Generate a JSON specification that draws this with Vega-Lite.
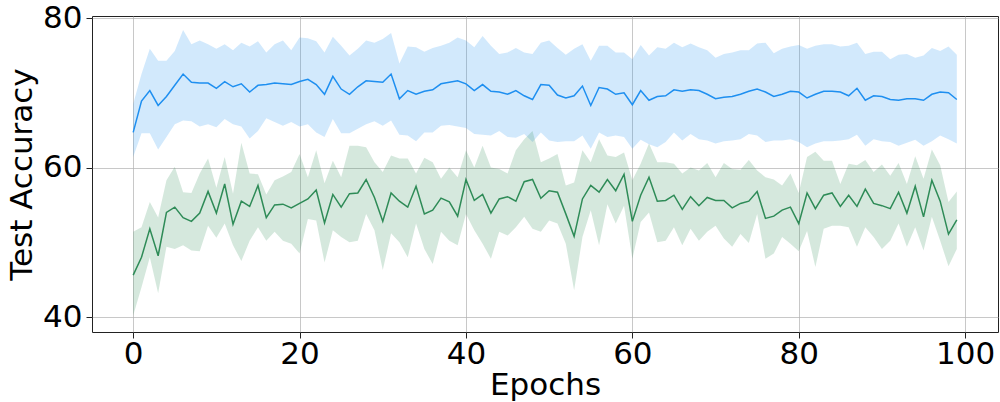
{
"$schema": "https://vega.github.io/schema/vega-lite/v6.json",
"width": 906, "height": 316,
"autosize": {"type": "none"},
"padding": {"left": 92, "top": 16, "right": 2, "bottom": 70},
"background": "white",
"config": {
  "view": {"stroke": "#222222", "strokeWidth": 1},
  "font": "DejaVu Sans",
  "axis": {"labelFont": "DejaVu Sans", "titleFont": "DejaVu Sans", "labelFontSize": 31, "titleFontSize": 31, "titleFontWeight": "normal", "labelColor": "black", "titleColor": "black", "tickColor": "#222222", "tickSize": 6, "domain": false, "gridColor": "#b0b0b0", "gridOpacity": 0.7, "gridWidth": 1}
},
"data": {"values": [
{"e":0,"s":"a","m":64.7,"lo":61.4,"hi":68.5},{"e":1,"s":"a","m":68.9,"lo":64.6,"hi":72.5},{"e":2,"s":"a","m":70.3,"lo":64.6,"hi":75.9},{"e":3,"s":"a","m":68.3,"lo":62.4,"hi":74.3},{"e":4,"s":"a","m":69.5,"lo":64.1,"hi":74.3},{"e":5,"s":"a","m":71.0,"lo":65.8,"hi":75.6},{"e":6,"s":"a","m":72.5,"lo":66.3,"hi":78.4},{"e":7,"s":"a","m":71.4,"lo":66.2,"hi":76.5},{"e":8,"s":"a","m":71.3,"lo":65.5,"hi":77.0},{"e":9,"s":"a","m":71.3,"lo":65.8,"hi":76.5},
{"e":10,"s":"a","m":70.6,"lo":65.4,"hi":75.9},{"e":11,"s":"a","m":71.5,"lo":66.5,"hi":76.5},{"e":12,"s":"a","m":70.8,"lo":65.8,"hi":75.7},{"e":13,"s":"a","m":71.2,"lo":65.5,"hi":76.7},{"e":14,"s":"a","m":70.1,"lo":63.9,"hi":76.2},{"e":15,"s":"a","m":71.0,"lo":64.9,"hi":76.9},{"e":16,"s":"a","m":71.1,"lo":66.6,"hi":75.4},{"e":17,"s":"a","m":71.3,"lo":66.1,"hi":76.5},{"e":18,"s":"a","m":71.2,"lo":65.6,"hi":77.0},{"e":19,"s":"a","m":71.1,"lo":66.1,"hi":75.7},
{"e":20,"s":"a","m":71.5,"lo":65.5,"hi":77.4},{"e":21,"s":"a","m":71.8,"lo":65.8,"hi":77.3},{"e":22,"s":"a","m":71.1,"lo":64.7,"hi":76.9},{"e":23,"s":"a","m":69.8,"lo":64.1,"hi":75.4},{"e":24,"s":"a","m":72.2,"lo":66.5,"hi":77.5},{"e":25,"s":"a","m":70.5,"lo":64.6,"hi":76.3},{"e":26,"s":"a","m":69.8,"lo":64.6,"hi":75.0},{"e":27,"s":"a","m":70.8,"lo":65.2,"hi":75.9},{"e":28,"s":"a","m":71.6,"lo":65.8,"hi":77.0},{"e":29,"s":"a","m":71.5,"lo":66.2,"hi":76.7},
{"e":30,"s":"a","m":71.4,"lo":65.6,"hi":77.2},{"e":31,"s":"a","m":72.5,"lo":66.3,"hi":78.0},{"e":32,"s":"a","m":69.2,"lo":64.4,"hi":73.9},{"e":33,"s":"a","m":70.3,"lo":64.3,"hi":76.2},{"e":34,"s":"a","m":69.8,"lo":63.5,"hi":76.1},{"e":35,"s":"a","m":70.2,"lo":64.7,"hi":75.5},{"e":36,"s":"a","m":70.4,"lo":64.7,"hi":76.0},{"e":37,"s":"a","m":71.2,"lo":65.6,"hi":76.3},{"e":38,"s":"a","m":71.4,"lo":65.7,"hi":76.7},{"e":39,"s":"a","m":71.6,"lo":65.5,"hi":77.4},
{"e":40,"s":"a","m":71.2,"lo":65.3,"hi":77.0},{"e":41,"s":"a","m":70.3,"lo":64.5,"hi":76.1},{"e":42,"s":"a","m":71.1,"lo":64.4,"hi":77.6},{"e":43,"s":"a","m":70.2,"lo":64.3,"hi":76.3},{"e":44,"s":"a","m":70.1,"lo":64.9,"hi":75.2},{"e":45,"s":"a","m":69.8,"lo":64.1,"hi":75.4},{"e":46,"s":"a","m":70.3,"lo":64.0,"hi":76.0},{"e":47,"s":"a","m":69.6,"lo":64.5,"hi":75.4},{"e":48,"s":"a","m":69.1,"lo":63.4,"hi":75.2},{"e":49,"s":"a","m":71.1,"lo":64.7,"hi":76.7},
{"e":50,"s":"a","m":71.0,"lo":63.6,"hi":77.0},{"e":51,"s":"a","m":69.7,"lo":63.4,"hi":76.0},{"e":52,"s":"a","m":69.3,"lo":63.5,"hi":75.1},{"e":53,"s":"a","m":69.6,"lo":63.5,"hi":75.9},{"e":54,"s":"a","m":70.9,"lo":64.3,"hi":76.5},{"e":55,"s":"a","m":68.3,"lo":62.5,"hi":74.3},{"e":56,"s":"a","m":70.7,"lo":64.7,"hi":76.3},{"e":57,"s":"a","m":70.5,"lo":64.1,"hi":76.3},{"e":58,"s":"a","m":69.8,"lo":64.3,"hi":75.4},{"e":59,"s":"a","m":70.0,"lo":64.1,"hi":75.4},
{"e":60,"s":"a","m":68.4,"lo":62.5,"hi":74.5},{"e":61,"s":"a","m":70.3,"lo":63.7,"hi":76.4},{"e":62,"s":"a","m":69.0,"lo":63.1,"hi":75.0},{"e":63,"s":"a","m":69.5,"lo":62.7,"hi":76.1},{"e":64,"s":"a","m":69.6,"lo":63.4,"hi":75.9},{"e":65,"s":"a","m":70.4,"lo":64.7,"hi":76.7},{"e":66,"s":"a","m":70.2,"lo":63.6,"hi":76.1},{"e":67,"s":"a","m":70.4,"lo":64.5,"hi":76.6},{"e":68,"s":"a","m":70.3,"lo":63.8,"hi":76.1},{"e":69,"s":"a","m":69.8,"lo":63.6,"hi":75.7},
{"e":70,"s":"a","m":69.2,"lo":63.2,"hi":74.7},{"e":71,"s":"a","m":69.4,"lo":63.5,"hi":75.2},{"e":72,"s":"a","m":69.5,"lo":63.6,"hi":75.4},{"e":73,"s":"a","m":69.8,"lo":63.8,"hi":75.7},{"e":74,"s":"a","m":70.2,"lo":64.5,"hi":75.7},{"e":75,"s":"a","m":70.5,"lo":64.3,"hi":76.6},{"e":76,"s":"a","m":70.1,"lo":63.4,"hi":76.7},{"e":77,"s":"a","m":69.5,"lo":63.6,"hi":75.3},{"e":78,"s":"a","m":69.8,"lo":63.6,"hi":75.9},{"e":79,"s":"a","m":70.2,"lo":63.8,"hi":76.2},
{"e":80,"s":"a","m":70.1,"lo":63.4,"hi":76.4},{"e":81,"s":"a","m":69.3,"lo":62.7,"hi":75.9},{"e":82,"s":"a","m":69.8,"lo":63.2,"hi":76.3},{"e":83,"s":"a","m":70.2,"lo":63.5,"hi":76.5},{"e":84,"s":"a","m":70.2,"lo":63.5,"hi":76.5},{"e":85,"s":"a","m":70.1,"lo":63.6,"hi":76.2},{"e":86,"s":"a","m":69.6,"lo":63.8,"hi":76.3},{"e":87,"s":"a","m":70.6,"lo":64.4,"hi":76.7},{"e":88,"s":"a","m":69.0,"lo":62.9,"hi":75.2},{"e":89,"s":"a","m":69.6,"lo":63.8,"hi":75.5},
{"e":90,"s":"a","m":69.5,"lo":63.5,"hi":75.5},{"e":91,"s":"a","m":69.1,"lo":63.4,"hi":74.5},{"e":92,"s":"a","m":69.0,"lo":62.9,"hi":75.1},{"e":93,"s":"a","m":69.2,"lo":63.3,"hi":75.2},{"e":94,"s":"a","m":69.2,"lo":63.7,"hi":74.7},{"e":95,"s":"a","m":69.0,"lo":62.9,"hi":75.0},{"e":96,"s":"a","m":69.8,"lo":63.5,"hi":76.0},{"e":97,"s":"a","m":70.1,"lo":64.3,"hi":75.6},{"e":98,"s":"a","m":70.0,"lo":63.8,"hi":76.2},{"e":99,"s":"a","m":69.1,"lo":63.2,"hi":75.1},
{"e":0,"s":"b","m":45.6,"lo":40.2,"hi":51.4},{"e":1,"s":"b","m":48.0,"lo":44.0,"hi":52.0},{"e":2,"s":"b","m":51.8,"lo":48.0,"hi":55.4},{"e":3,"s":"b","m":48.2,"lo":43.2,"hi":53.3},{"e":4,"s":"b","m":54.0,"lo":49.4,"hi":58.3},{"e":5,"s":"b","m":54.7,"lo":49.1,"hi":60.1},{"e":6,"s":"b","m":53.3,"lo":49.6,"hi":56.7},{"e":7,"s":"b","m":52.8,"lo":48.9,"hi":56.6},{"e":8,"s":"b","m":53.9,"lo":48.8,"hi":59.2},{"e":9,"s":"b","m":56.8,"lo":52.2,"hi":61.2},
{"e":10,"s":"b","m":53.9,"lo":50.6,"hi":57.3},{"e":11,"s":"b","m":57.8,"lo":52.5,"hi":61.4},{"e":12,"s":"b","m":52.4,"lo":49.6,"hi":56.5},{"e":13,"s":"b","m":55.5,"lo":47.5,"hi":63.3},{"e":14,"s":"b","m":54.8,"lo":50.2,"hi":59.2},{"e":15,"s":"b","m":57.6,"lo":52.0,"hi":59.1},{"e":16,"s":"b","m":53.3,"lo":50.2,"hi":56.4},{"e":17,"s":"b","m":55.0,"lo":51.4,"hi":58.3},{"e":18,"s":"b","m":55.1,"lo":50.2,"hi":58.8},{"e":19,"s":"b","m":54.6,"lo":49.8,"hi":59.4},
{"e":20,"s":"b","m":55.2,"lo":48.5,"hi":61.8},{"e":21,"s":"b","m":55.8,"lo":53.1,"hi":58.7},{"e":22,"s":"b","m":57.0,"lo":52.9,"hi":62.3},{"e":23,"s":"b","m":52.6,"lo":47.3,"hi":57.9},{"e":24,"s":"b","m":56.4,"lo":51.6,"hi":60.9},{"e":25,"s":"b","m":54.7,"lo":50.7,"hi":58.7},{"e":26,"s":"b","m":56.5,"lo":50.0,"hi":62.9},{"e":27,"s":"b","m":56.6,"lo":50.2,"hi":62.9},{"e":28,"s":"b","m":58.4,"lo":53.8,"hi":62.7},{"e":29,"s":"b","m":56.0,"lo":51.6,"hi":60.7},
{"e":30,"s":"b","m":52.8,"lo":46.3,"hi":59.4},{"e":31,"s":"b","m":56.6,"lo":51.2,"hi":61.6},{"e":32,"s":"b","m":55.5,"lo":50.0,"hi":61.2},{"e":33,"s":"b","m":54.7,"lo":48.0,"hi":61.2},{"e":34,"s":"b","m":57.5,"lo":52.5,"hi":59.2},{"e":35,"s":"b","m":53.8,"lo":49.1,"hi":61.3},{"e":36,"s":"b","m":54.3,"lo":47.1,"hi":60.7},{"e":37,"s":"b","m":55.9,"lo":51.4,"hi":58.5},{"e":38,"s":"b","m":55.4,"lo":50.2,"hi":60.0},{"e":39,"s":"b","m":53.5,"lo":49.6,"hi":58.7},
{"e":40,"s":"b","m":58.4,"lo":53.8,"hi":62.3},{"e":41,"s":"b","m":55.6,"lo":51.6,"hi":60.0},{"e":42,"s":"b","m":56.4,"lo":49.8,"hi":62.9},{"e":43,"s":"b","m":53.9,"lo":47.8,"hi":60.0},{"e":44,"s":"b","m":55.8,"lo":51.4,"hi":59.8},{"e":45,"s":"b","m":56.1,"lo":50.9,"hi":59.2},{"e":46,"s":"b","m":55.5,"lo":52.0,"hi":62.3},{"e":47,"s":"b","m":58.1,"lo":53.4,"hi":63.8},{"e":48,"s":"b","m":58.4,"lo":51.8,"hi":64.9},{"e":49,"s":"b","m":55.9,"lo":51.4,"hi":60.7},
{"e":50,"s":"b","m":56.9,"lo":52.9,"hi":61.2},{"e":51,"s":"b","m":56.7,"lo":52.5,"hi":61.8},{"e":52,"s":"b","m":53.8,"lo":49.8,"hi":57.6},{"e":53,"s":"b","m":50.8,"lo":43.6,"hi":58.0},{"e":54,"s":"b","m":55.8,"lo":50.7,"hi":62.3},{"e":55,"s":"b","m":57.6,"lo":54.3,"hi":60.7},{"e":56,"s":"b","m":56.7,"lo":49.6,"hi":63.8},{"e":57,"s":"b","m":58.4,"lo":55.1,"hi":61.6},{"e":58,"s":"b","m":56.9,"lo":52.5,"hi":61.4},{"e":59,"s":"b","m":59.1,"lo":54.9,"hi":62.0},
{"e":60,"s":"b","m":52.8,"lo":47.8,"hi":58.3},{"e":61,"s":"b","m":56.3,"lo":52.7,"hi":60.5},{"e":62,"s":"b","m":58.7,"lo":54.0,"hi":63.2},{"e":63,"s":"b","m":55.5,"lo":50.0,"hi":60.7},{"e":64,"s":"b","m":55.6,"lo":50.2,"hi":60.7},{"e":65,"s":"b","m":56.3,"lo":52.0,"hi":60.5},{"e":66,"s":"b","m":54.4,"lo":49.6,"hi":59.2},{"e":67,"s":"b","m":56.1,"lo":51.8,"hi":60.0},{"e":68,"s":"b","m":54.9,"lo":50.2,"hi":59.6},{"e":69,"s":"b","m":56.0,"lo":51.4,"hi":60.6},
{"e":70,"s":"b","m":55.6,"lo":52.2,"hi":58.7},{"e":71,"s":"b","m":55.6,"lo":50.5,"hi":60.6},{"e":72,"s":"b","m":54.6,"lo":49.4,"hi":59.8},{"e":73,"s":"b","m":55.2,"lo":51.1,"hi":59.7},{"e":74,"s":"b","m":55.5,"lo":49.9,"hi":61.0},{"e":75,"s":"b","m":56.8,"lo":53.8,"hi":59.6},{"e":76,"s":"b","m":53.2,"lo":47.8,"hi":58.7},{"e":77,"s":"b","m":53.5,"lo":48.5,"hi":58.4},{"e":78,"s":"b","m":54.3,"lo":50.7,"hi":57.6},{"e":79,"s":"b","m":54.7,"lo":49.8,"hi":59.2},
{"e":80,"s":"b","m":52.5,"lo":48.8,"hi":56.6},{"e":81,"s":"b","m":56.6,"lo":51.5,"hi":61.4},{"e":82,"s":"b","m":54.5,"lo":46.7,"hi":62.1},{"e":83,"s":"b","m":56.3,"lo":51.8,"hi":60.9},{"e":84,"s":"b","m":56.6,"lo":52.2,"hi":60.9},{"e":85,"s":"b","m":54.8,"lo":52.2,"hi":57.8},{"e":86,"s":"b","m":56.3,"lo":52.0,"hi":60.5},{"e":87,"s":"b","m":54.8,"lo":49.4,"hi":60.3},{"e":88,"s":"b","m":57.1,"lo":52.0,"hi":61.0},{"e":89,"s":"b","m":55.2,"lo":50.7,"hi":59.4},
{"e":90,"s":"b","m":54.9,"lo":49.1,"hi":60.4},{"e":91,"s":"b","m":54.5,"lo":50.2,"hi":58.9},{"e":92,"s":"b","m":56.7,"lo":52.5,"hi":60.6},{"e":93,"s":"b","m":53.9,"lo":49.4,"hi":57.8},{"e":94,"s":"b","m":57.5,"lo":52.0,"hi":61.5},{"e":95,"s":"b","m":53.4,"lo":48.9,"hi":58.5},{"e":96,"s":"b","m":58.3,"lo":53.4,"hi":62.4},{"e":97,"s":"b","m":55.5,"lo":50.2,"hi":60.3},{"e":98,"s":"b","m":51.1,"lo":46.8,"hi":55.4},{"e":99,"s":"b","m":53.0,"lo":49.1,"hi":56.8}
]},
"encoding": {
  "x": {"field": "e", "type": "quantitative", "scale": {"domain": [-4.95, 103.95], "nice": false, "zero": false},
        "axis": {"values": [0, 20, 40, 60, 80, 100], "title": "Epochs", "labelPadding": 1, "titlePadding": 1}},
  "color": {"field": "s", "type": "nominal", "scale": {"domain": ["a", "b"], "range": ["#1e8ff0", "#2e8b57"]}, "legend": null}
},
"layer": [
  {"mark": {"type": "area", "opacity": 0.2},
   "encoding": {"y": {"field": "lo", "type": "quantitative", "scale": {"domain": [38, 80.27], "nice": false, "zero": false},
                      "axis": {"values": [40, 60, 80], "title": "Test Accuracy", "labelPadding": 4, "titlePadding": 4}},
                "y2": {"field": "hi"}}},
  {"mark": {"type": "line", "strokeWidth": 1.5},
   "encoding": {"y": {"field": "m", "type": "quantitative"}}}
]
}
